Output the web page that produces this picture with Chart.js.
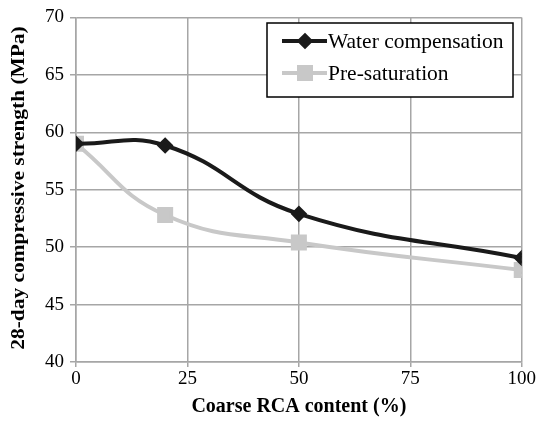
<!DOCTYPE html>
<html>
<head>
<meta charset="utf-8">
<script src="https://cdn.jsdelivr.net/npm/chart.js@4"></script>
<style>
  html, body { margin: 0; padding: 0; background: #fff; }
  #wrap { width: 537px; height: 423px; }
</style>
</head>
<body>
<div id="wrap"><canvas id="mychart"></canvas></div>
<script>
const rcaContent = [0, 20, 50, 100];
const waterComp = [59.0, 58.85, 52.9, 49.05];
const preSat = [59.0, 52.8, 50.4, 48.0];
const xTicks = [0, 25, 50, 75, 100];
const yTitle = "28-day compressive strength (MPa)";

const gridColor = "#a6a6a6";
const font = "'Liberation Serif', 'Times New Roman', serif";

// legend inside the plot with a black box, plus the stretched y title
const extras = {
  id: "extras",
  afterDraw(chart) {
    const ctx = chart.ctx;
    const x0 = 267, y0 = 23, w = 246, h = 74;
    ctx.save();
    ctx.fillStyle = "#fff";
    ctx.fillRect(x0, y0, w, h);
    ctx.strokeStyle = "#000";
    ctx.lineWidth = 1.5;
    ctx.strokeRect(x0, y0, w, h);
    chart.data.datasets.forEach((ds, i) => {
      const y = y0 + 18 + i * 32;
      ctx.strokeStyle = ds.borderColor;
      ctx.lineWidth = 4;
      ctx.beginPath();
      ctx.moveTo(x0 + 15, y);
      ctx.lineTo(x0 + 60, y);
      ctx.stroke();
      ctx.fillStyle = ds.borderColor;
      Chart.helpers.drawPoint(ctx, {
        pointStyle: ds.pointStyle,
        radius: ds.pointRadius,
        borderWidth: 1,
      }, x0 + 38, y);
      ctx.fillStyle = "#000";
      ctx.font = "21.5px " + font;
      ctx.textBaseline = "middle";
      ctx.textAlign = "left";
      ctx.fillText(ds.label, x0 + 61, y + 1);
    });

    ctx.translate(19, 188);
    ctx.rotate(-Math.PI / 2);
    ctx.scale(1.19, 1);
    ctx.fillStyle = "#000";
    ctx.font = "bold 18px " + font;
    ctx.textAlign = "center";
    ctx.textBaseline = "middle";
    ctx.fillText(yTitle, 0, 0);
    ctx.restore();
  },
};

new Chart(document.getElementById("mychart").getContext("2d"), {
  type: "line",
  data: {
    datasets: [
      {
        label: "Water compensation",
        data: rcaContent.map((x, i) => ({ x: x, y: waterComp[i] })),
        borderColor: "#1a1a1a",
        backgroundColor: "#1a1a1a",
        pointBackgroundColor: "#1a1a1a",
        pointBorderColor: "#1a1a1a",
        borderWidth: 4,
        pointStyle: "rectRot",
        pointRadius: 5.5,
        tension: 0.45,
      },
      {
        label: "Pre-saturation",
        data: rcaContent.map((x, i) => ({ x: x, y: preSat[i] })),
        borderColor: "#c8c8c8",
        backgroundColor: "#c8c8c8",
        pointBackgroundColor: "#c8c8c8",
        pointBorderColor: "#c8c8c8",
        borderWidth: 4,
        pointStyle: "rect",
        pointRadius: 8.5,
        tension: 0.45,
      },
    ],
  },
  options: {
    responsive: true,
    maintainAspectRatio: false,
    animation: false,
    layout: { padding: { top: 4, right: 14, left: 0, bottom: 0 } },
    plugins: {
      legend: { display: false },
      tooltip: { enabled: false },
    },
    scales: {
      x: {
        type: "linear",
        min: 0,
        max: 100,
        afterBuildTicks: (s) => { s.ticks = xTicks.map((v) => ({ value: v })); },
        afterFit: (s) => { s.height = 61; },
        grid: { color: gridColor, lineWidth: 1.5, tickLength: 5, tickColor: gridColor },
        border: { color: gridColor, width: 1.5 },
        ticks: { color: "#000", font: { family: font, size: 19 }, padding: 1, maxRotation: 0 },
        title: {
          display: true,
          text: "Coarse RCA content (%)",
          color: "#000",
          font: { family: font, size: 20, weight: "bold" },
          padding: { top: 0 },
        },
      },
      y: {
        min: 40,
        max: 70,
        ticks: { stepSize: 5, color: "#000", font: { family: font, size: 19 }, padding: 6 },
        afterFit: (s) => { s.width = 76; },
        grid: { color: gridColor, lineWidth: 1.5, tickLength: 6, tickColor: gridColor },
        border: { color: gridColor, width: 1.5 },
        title: { display: false },
      },
    },
  },
  plugins: [extras],
});
</script>
</body>
</html>
